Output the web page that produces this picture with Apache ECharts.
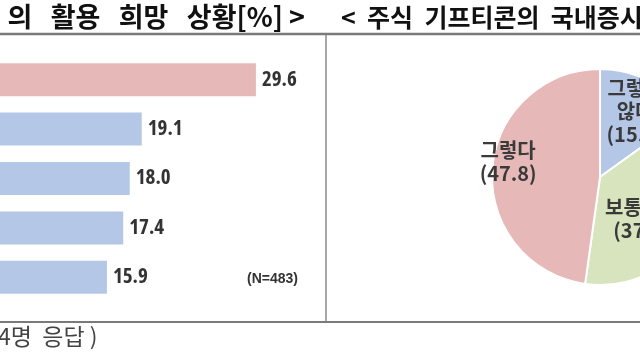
<!DOCTYPE html>
<html><head><meta charset="utf-8">
<script src="https://cdn.jsdelivr.net/npm/echarts@6/dist/echarts.min.js"></script>
<style>html,body{margin:0;padding:0;background:#fff}#c{width:640px;height:360px}</style>
</head><body><div id="c"></div>
<script>
// ---- data ----
const barCategories = ['항목 1', '항목 2', '항목 3', '항목 4', '항목 5'];
const barValues = [29.6, 19.1, 18.0, 17.4, 15.9];
const pieNames = ['그렇지 않다', '보통이다', '그렇다'];
const pieValues = [15.1, 37.1, 47.8];
const sampleNote = '(N=483)';
const leftTitle = '의   활용   희망   상황[%] >';
const rightTitle = '<  주식  기프티콘의  국내증시';
const footnote = '4명  응답 )';

// ---- styles ----
const PINK = '#e6b8b8', BLUE = '#b4c7e7', GREEN = '#d7e4bd';
const pieColors = [BLUE, GREEN, PINK];
const pieLabelShift = [[9, -15], [-7, 12], [-35, -11]];
const KR = '"Noto Sans CJK KR", "Noto Sans", sans-serif';

// pick a narrow installed font for the value labels (target: "29.6" ~35px at 21px)
const ctx = document.createElement('canvas').getContext('2d');
function w(font) { ctx.font = font; return ctx.measureText('29.6').width; }
function hasFamily(name) {
  return w('bold 40px "' + name + '", monospace') !== w('bold 40px monospace') ||
         w('bold 40px "' + name + '", serif') !== w('bold 40px serif');
}
const families = ['Liberation Sans Narrow', 'Open Sans', 'Noto Sans', 'Roboto', 'DejaVu Sans', 'Liberation Sans'];
const stretches = ['extra-condensed', 'condensed', 'semi-condensed', ''];
let best = {fam: 'Liberation Sans', st: '', diff: 1e9};
families.forEach(f => {
  if (!hasFamily(f)) return;
  stretches.forEach(s => {
    const d = Math.abs(w('bold ' + (s ? s + ' ' : '') + '21px "' + f + '"') - 35);
    if (d < best.diff - 0.5) best = {fam: f, st: s, diff: d};
  });
});
const numFamily = '"' + best.fam + '", sans-serif';
const numWeight = 'bold' + (best.st ? ' ' + best.st : '');

const chart = echarts.init(document.getElementById('c'), null, {renderer: 'canvas'});
chart.setOption({
  animation: false,
  backgroundColor: '#fff',
  grid: {left: -66, top: 55, width: 435, height: 247, containLabel: false, outerBoundsMode: 'none'},
  xAxis: {type: 'value', min: 0, max: 40, show: false},
  yAxis: {type: 'category', data: barCategories, inverse: true, show: false},
  series: [
    {
      type: 'bar',
      data: barValues,
      barWidth: 33,
      itemStyle: {color: p => p.dataIndex === 0 ? PINK : BLUE},
      label: {
        show: true, position: 'right', distance: 6,
        fontFamily: numFamily, fontWeight: numWeight, fontSize: 21, color: '#333',
        formatter: p => p.value.toFixed(1)
      }
    },
    {
      type: 'pie',
      center: [600, 177],
      radius: 108,
      startAngle: 90,
      clockwise: true,
      data: pieNames.map((n, i) => ({name: n, value: pieValues[i], itemStyle: {color: pieColors[i]}})),
      itemStyle: {borderColor: '#fff', borderWidth: 2},
      label: {
        show: true, position: 'inside',
        formatter: p => p.name.replace(' ', '\n') + '\n(' + p.value.toFixed(1) + ')',
        fontFamily: KR, fontWeight: 'bold', fontSize: 20, lineHeight: 23, color: '#3a3a3a'
      },
      labelLine: {show: false},
      labelLayout: p => ({dx: pieLabelShift[p.dataIndex][0], dy: pieLabelShift[p.dataIndex][1]}),
      emphasis: {disabled: true}
    }
  ],
  graphic: [
    {type: 'text', right: 335, top: 3, style: {text: leftTitle, font: 'bold 27px ' + KR, fill: '#111'}},
    {type: 'text', left: 341, top: 5, style: {text: rightTitle, font: 'bold 25px ' + KR, fill: '#111'}},
    {type: 'line', shape: {x1: 0, y1: 34, x2: 640, y2: 34}, style: {stroke: '#7a7a7a', lineWidth: 2.5}},
    {type: 'line', shape: {x1: 326, y1: 35, x2: 326, y2: 322}, style: {stroke: '#8a8a8a', lineWidth: 1.5}},
    {type: 'line', shape: {x1: 0, y1: 322, x2: 640, y2: 322}, style: {stroke: '#7a7a7a', lineWidth: 2}},
    {type: 'text', left: 247, top: 272, style: {text: sampleNote, font: 'bold 14px "Liberation Sans", Arial, sans-serif', fill: '#333'}},
    {type: 'text', left: -2, top: 325, style: {text: footnote, font: '23px ' + KR, fill: '#444'}}
  ]
});
</script></body></html>
